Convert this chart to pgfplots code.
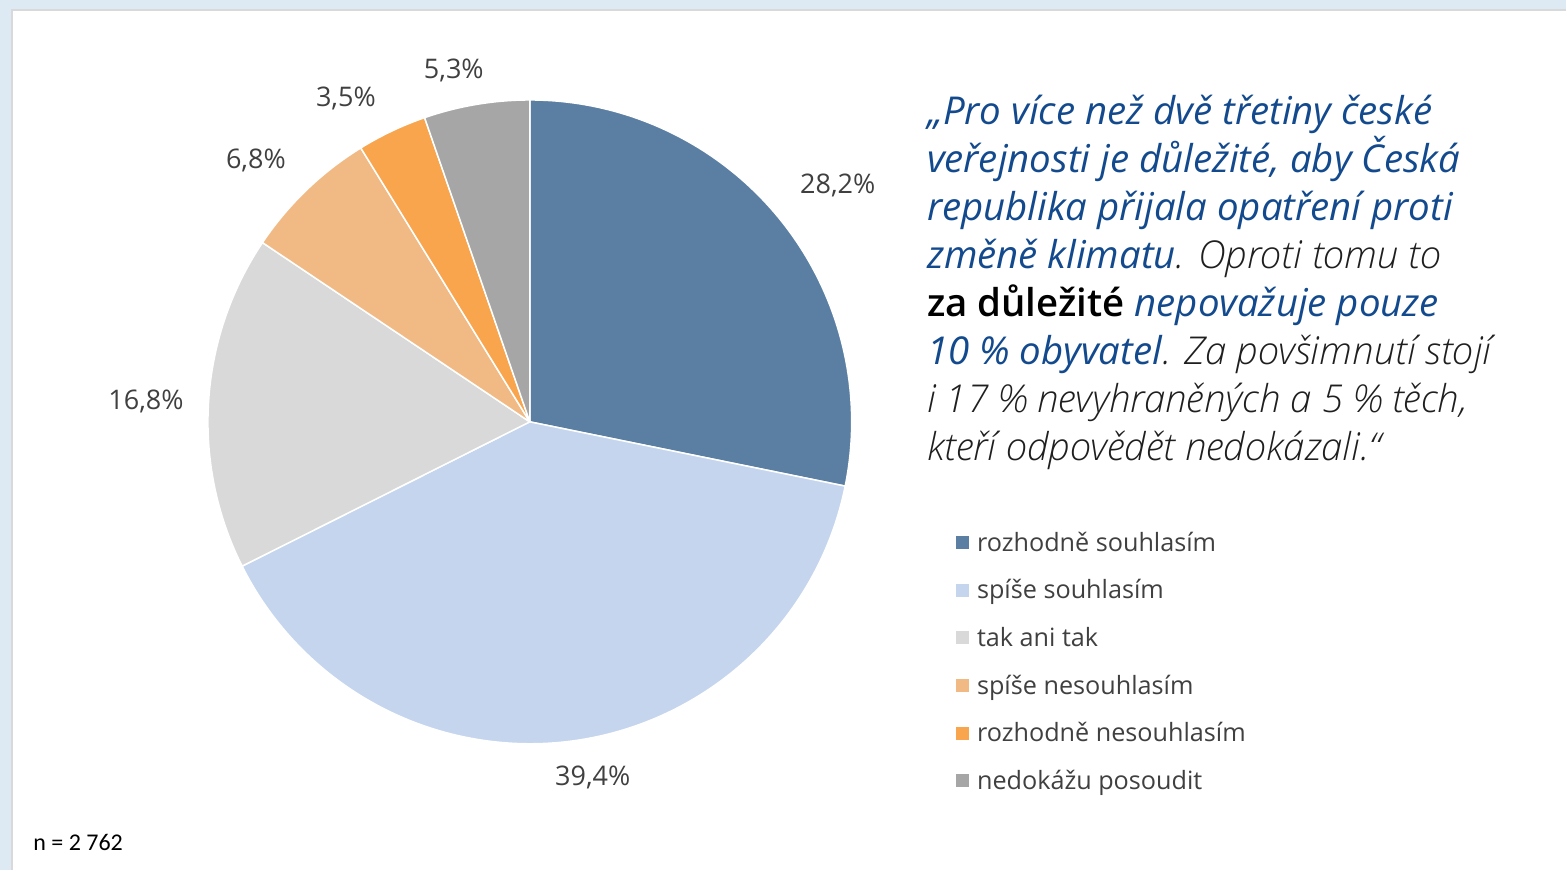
\documentclass[border=0pt]{standalone}
\usepackage{pgfplots}
\usepackage{pgfplotstable}
\pgfplotsset{compat=1.18}
\usepackage{fontspec}
\setmainfont{Open Sans}
\newfontfamily\calib{Carlito}
\newfontfamily\qreg{Open Sans}[UprightFont=*, AutoFakeSlant=0.0]
\IfFontExistsTF{Open Sans Light Italic}
  {\newfontfamily\qlight{Open Sans Light Italic}}
  {\IfFontExistsTF{Fira Sans Light Italic}
    {\newfontfamily\qlight{Fira Sans Light Italic}}
    {\newfontfamily\qlight{Open Sans}[FakeSlant=0.2]}}
\IfFontExistsTF{Open Sans Semibold}
  {\newfontfamily\qbold{Open Sans Semibold}}
  {\newfontfamily\qbold{Open Sans}[UprightFont=*, BoldFont=*]}

\definecolor{bgblue}{HTML}{DDEAF3}
\definecolor{panelline}{HTML}{D9D9D9}
\definecolor{qblue}{HTML}{134A8E}
\definecolor{txt}{HTML}{404040}
\definecolor{c0}{HTML}{5B7FA3}
\definecolor{c1}{HTML}{C5D5EE}
\definecolor{c2}{HTML}{D9D9D9}
\definecolor{c3}{HTML}{F1BA84}
\definecolor{c4}{HTML}{F8A54D}
\definecolor{c5}{HTML}{A6A6A6}

\newcommand{\bl}[1]{{\normalfont\itshape\color{qblue}#1}}

% shares in %, label positions in pixels of the original
\pgfplotstableread[col sep=comma]{
name,v,lx,ly
rozhodně souhlasím,28.2,838,186
spíše souhlasím,39.4,593,778
tak ani tak,16.8,146,402
spíše nesouhlasím,6.8,256,161
rozhodně nesouhlasím,3.5,346,99
nedokážu posoudit,5.3,454,71
}\piedata

\begin{document}
\begin{tikzpicture}
\begin{axis}[width=783.5pt, height=435pt, scale only axis,
  xmin=0, xmax=1567, ymin=0, ymax=870, y dir=reverse,
  hide axis, clip=false]
\pgfplotsextra{
  \fill[bgblue] (axis cs:0,0) rectangle (axis cs:1567,870);
  \fill[white] (axis cs:12,10) rectangle (axis cs:1567,870);
  \draw[panelline, line width=0.6pt] (axis cs:12,870) -- (axis cs:12,10) -- (axis cs:1567,10);
  \def\astart{90}
  \pgfplotsforeachungrouped \i in {0,...,5}{
    \pgfplotstablegetelem{\i}{v}\of\piedata \let\val\pgfplotsretval
    \pgfplotstablegetelem{\i}{lx}\of\piedata \let\lx\pgfplotsretval
    \pgfplotstablegetelem{\i}{ly}\of\piedata \let\ly\pgfplotsretval
    \pgfplotstablegetelem{\i}{name}\of\piedata \let\nm\pgfplotsretval
    \pgfmathsetmacro\aend{\astart-\val*3.6}
    \filldraw[fill=c\i, draw=white, line width=0.75pt, line join=round]
      (axis cs:530,422) -- ++(\astart:161pt) arc[start angle=\astart, end angle=\aend, radius=161pt] -- cycle;
    \node[txt, font=\fontsize{13.5}{16}\selectfont] at (axis cs:\lx,\ly)
      {\pgfmathprintnumber[fixed, fixed zerofill, precision=1, use comma, assume math mode=true]{\val}\%};
    \pgfmathsetmacro\legy{543+47.6*\i}
    \fill[c\i] (axis cs:956,\legy) ++(0,-3.25pt) rectangle ++(6.5pt,6.5pt);
    \node[txt, anchor=base west, inner sep=0pt, font=\fontsize{12.6}{14}\selectfont] at (axis cs:977,\legy+8.5) {\nm};
    \let\astart\aend
  }
  \node[anchor=base west, inner sep=0pt, font=\calib\fontsize{12}{14}\selectfont] at (axis cs:33,851) {n = 2 762};
  \begin{scope}[every node/.style={anchor=base west, inner sep=0pt, text=black!88, font=\qlight\fontsize{19.2}{22}\selectfont}]
    \node at (axis cs:927,125) {\bl{„Pro více než dvě třetiny české}};
    \node at (axis cs:927,173) {\bl{veřejnosti je důležité, aby Česká}};
    \node at (axis cs:927,221) {\bl{republika přijala opatření proti}};
    \node at (axis cs:927,269) {\bl{změně klimatu}. Oproti tomu to};
    \node at (axis cs:927,317) {{\qbold\color{black}za důležité} \bl{nepovažuje pouze}};
    \node at (axis cs:927,365) {\bl{10 \% obyvatel}. Za povšimnutí stojí};
    \node at (axis cs:927,413) {i 17 \% nevyhraněných a 5 \% těch,};
    \node at (axis cs:927,461) {kteří odpovědět nedokázali.“};
  \end{scope}
}
\end{axis}
\end{tikzpicture}
\end{document}
